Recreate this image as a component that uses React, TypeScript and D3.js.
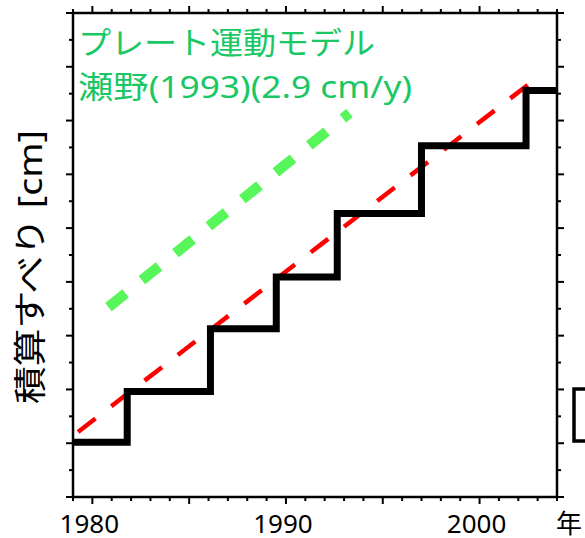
import React from "react";
import * as d3 from "d3";

// ---- data ----
const xDomain = [1979, 2004];
const yDomain = [0, 90]; // cm
const stepYears = [1979, 1981.8, 1986.1, 1989.5, 1992.65, 1997.0, 2002.4, 2004];
const stepLevels = [10.2, 19.6, 31.3, 40.9, 52.7, 65.3, 75.6, 75.6];
const fitYears = [1979.26, 2003.02];
const fitValues = [12.1, 78.1];
const plateYears = [1980.83, 1993.28];
const plateValues = [35.3, 71.4];
const xLabelYears = [1980, 1990, 2000];
const xTickLabels = ["1980", "1990", "2000"];
const titleLines = ["プレート運動モデル", "瀬野(1993)(2.9 cm/y)"];
const yAxisLabel = "積算すべり [cm]";
const xUnitLabel = "年";

const W = 585;
const H = 538;
const FONT = "'Noto Sans', 'Noto Sans CJK JP', sans-serif";

export default function App() {
  const x = d3.scaleLinear().domain(xDomain).range([73, 557]);
  const y = d3.scaleLinear().domain(yDomain).range([497, 13]);

  const steps = stepYears.map((yr, i) => [yr, stepLevels[i]] as [number, number]);
  const stepPath = d3
    .line<[number, number]>()
    .x((d) => x(d[0]))
    .y((d) => y(d[1]))
    .curve(d3.curveStepAfter)(steps) as string;

  const lin = d3
    .line<[number, number]>()
    .x((d) => x(d[0]))
    .y((d) => y(d[1]));
  const fitPath = lin(fitYears.map((yr, i) => [yr, fitValues[i]] as [number, number])) as string;
  const platePath = lin(plateYears.map((yr, i) => [yr, plateValues[i]] as [number, number])) as string;

  const xTicks = d3.range(xDomain[0], xDomain[1] + 1, 1);
  const yTicks = d3.range(yDomain[0], yDomain[1] + 1, 5);
  const [x0, x1] = x.range();
  const [y0, y1] = y.range(); // y0 bottom, y1 top

  const isMajorX = (v: number) => v % 5 === 0;
  const isMajorY = (v: number) => v % 10 === 0;

  return (
    <svg
      width={W}
      height={H}
      style={{ position: "absolute", left: 0, top: 0, background: "#fff" }}
      fontFamily={FONT}
    >
      <rect x={0} y={0} width={W} height={H} fill="#fff" />

      {/* partial legend box on the right edge */}
      <rect x={574} y={389} width={40} height={52} fill="none" stroke="#000" strokeWidth={3.5} />

      {/* plate model (green) */}
      <path d={platePath} fill="none" stroke="#57f65a" strokeWidth={10.5} strokeDasharray="22 21" />

      {/* fitted line (red dashed) */}
      <path d={fitPath} fill="none" stroke="#ff0000" strokeWidth={4.5} strokeDasharray="22 20" />

      {/* cumulative slip staircase */}
      <path d={stepPath} fill="none" stroke="#000" strokeWidth={7} strokeLinejoin="miter" />

      {/* frame */}
      <rect
        x={x0}
        y={y1}
        width={x1 - x0}
        height={y0 - y1}
        fill="none"
        stroke="#000"
        strokeWidth={2.5}
      />

      {/* x ticks bottom & top */}
      {xTicks.map((v) => {
        const len = isMajorX(v) ? 7 : 4;
        return (
          <g key={"xt" + v}>
            <line x1={x(v)} x2={x(v)} y1={y0} y2={y0 + len} stroke="#000" strokeWidth={2} />
            <line x1={x(v)} x2={x(v)} y1={y1} y2={y1 - len} stroke="#000" strokeWidth={2} />
          </g>
        );
      })}

      {/* y ticks left & right */}
      {yTicks.map((v) => {
        const len = isMajorY(v) ? 7 : 4;
        return (
          <g key={"yt" + v}>
            <line x1={x0} x2={x0 - len} y1={y(v)} y2={y(v)} stroke="#000" strokeWidth={2} />
            <line x1={x1} x2={x1 + len} y1={y(v)} y2={y(v)} stroke="#000" strokeWidth={2} />
          </g>
        );
      })}

      {/* x tick labels */}
      {xLabelYears.map((v, i) => (
        <text
          key={"xl" + v}
          x={x(v) - 3}
          y={533}
          textAnchor="middle"
          fontSize={26}
          fill="#000"
        >
          {xTickLabels[i]}
        </text>
      ))}
      <text x={556} y={533} fontSize={26} fill="#000">
        {xUnitLabel}
      </text>

      {/* y axis label */}
      <text
        transform={`translate(42, 267) rotate(-90)`}
        textAnchor="middle"
        fontSize={33}
        fill="#000"
        textLength={274}
        lengthAdjust="spacingAndGlyphs"
      >
        {yAxisLabel}
      </text>

      {/* title */}
      <text x={78} y={54} fontSize={31} fill="#19c864" textLength={297} lengthAdjust="spacingAndGlyphs">
        {titleLines[0]}
      </text>
      <text x={78} y={98} fontSize={31} fill="#19c864" textLength={334} lengthAdjust="spacingAndGlyphs">
        {titleLines[1]}
      </text>
    </svg>
  );
}
